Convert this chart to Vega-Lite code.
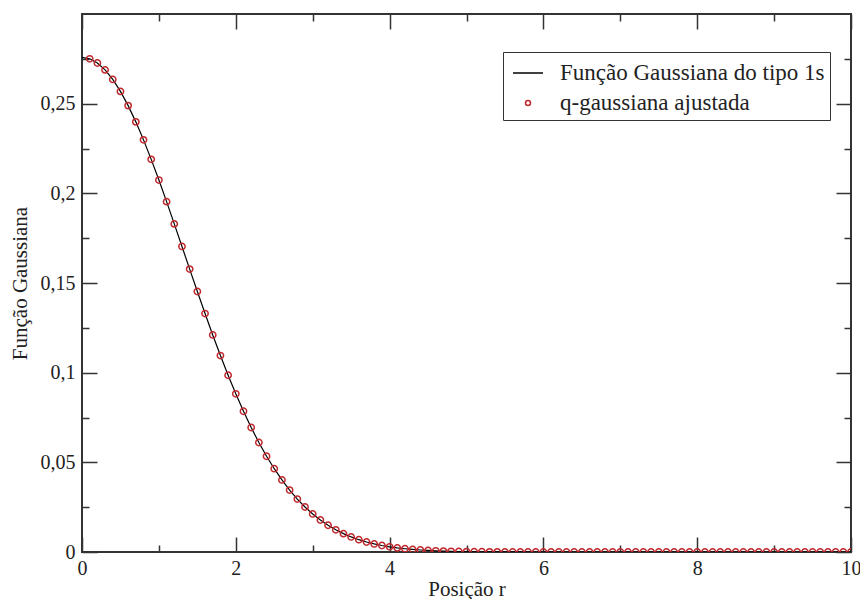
{
  "$schema": "https://vega.github.io/schema/vega-lite/v6.json",
  "width": 769,
  "height": 538,
  "autosize": {"type": "none"},
  "padding": {"left": 82, "top": 14, "right": 9, "bottom": 47},
  "background": "white",
  "config": {
    "view": {"stroke": "#333333", "strokeWidth": 2},
    "font": "Liberation Serif",
    "axis": {"domain": false, "grid": false, "labelFont": "Liberation Serif", "titleFont": "Liberation Serif", "labelColor": "#222", "titleColor": "#222", "titleFontWeight": "normal", "tickColor": "#333333", "tickWidth": 1.5, "labelFlush": false}
  },
  "data": {"values": [
    {"r": 0.0, "f": 0.27580}, {"r": 0.1, "f": 0.27502}, {"r": 0.2, "f": 0.27267}, {"r": 0.3, "f": 0.26882}, {"r": 0.4, "f": 0.26351},
    {"r": 0.5, "f": 0.25683}, {"r": 0.6, "f": 0.24891}, {"r": 0.7, "f": 0.23985}, {"r": 0.8, "f": 0.22982}, {"r": 0.9, "f": 0.21895},
    {"r": 1.0, "f": 0.20741}, {"r": 1.1, "f": 0.19536}, {"r": 1.2, "f": 0.18296}, {"r": 1.3, "f": 0.17038}, {"r": 1.4, "f": 0.15776},
    {"r": 1.5, "f": 0.14525}, {"r": 1.6, "f": 0.13296}, {"r": 1.7, "f": 0.12103}, {"r": 1.8, "f": 0.10954}, {"r": 1.9, "f": 0.09858},
    {"r": 2.0, "f": 0.08821}, {"r": 2.1, "f": 0.07848}, {"r": 2.2, "f": 0.06943}, {"r": 2.3, "f": 0.06107}, {"r": 2.4, "f": 0.05341},
    {"r": 2.5, "f": 0.04645}, {"r": 2.6, "f": 0.04017}, {"r": 2.7, "f": 0.03454}, {"r": 2.8, "f": 0.02953}, {"r": 2.9, "f": 0.02510},
    {"r": 3.0, "f": 0.02122}, {"r": 3.1, "f": 0.01783}, {"r": 3.2, "f": 0.01490}, {"r": 3.3, "f": 0.01238}, {"r": 3.4, "f": 0.01023},
    {"r": 3.5, "f": 0.00840}, {"r": 3.6, "f": 0.00686}, {"r": 3.7, "f": 0.00557}, {"r": 3.8, "f": 0.00450}, {"r": 3.9, "f": 0.00361},
    {"r": 4.0, "f": 0.00289}, {"r": 4.1, "f": 0.00229}, {"r": 4.2, "f": 0.00181}, {"r": 4.3, "f": 0.00142}, {"r": 4.4, "f": 0.00111},
    {"r": 4.5, "f": 0.00086}, {"r": 4.6, "f": 0.00066}, {"r": 4.7, "f": 0.00051}, {"r": 4.8, "f": 0.00039}, {"r": 4.9, "f": 0.00029},
    {"r": 5.0, "f": 0.00022}, {"r": 5.1, "f": 0.00017}, {"r": 5.2, "f": 0.00012}, {"r": 5.3, "f": 0.00009}, {"r": 5.4, "f": 0.00007},
    {"r": 5.5, "f": 0.00005}, {"r": 5.6, "f": 0.00004}, {"r": 5.7, "f": 0.00003}, {"r": 5.8, "f": 0.00002}, {"r": 5.9, "f": 0.00001},
    {"r": 6.0, "f": 0}, {"r": 6.1, "f": 0}, {"r": 6.2, "f": 0}, {"r": 6.3, "f": 0}, {"r": 6.4, "f": 0},
    {"r": 6.5, "f": 0}, {"r": 6.6, "f": 0}, {"r": 6.7, "f": 0}, {"r": 6.8, "f": 0}, {"r": 6.9, "f": 0},
    {"r": 7.0, "f": 0}, {"r": 7.1, "f": 0}, {"r": 7.2, "f": 0}, {"r": 7.3, "f": 0}, {"r": 7.4, "f": 0},
    {"r": 7.5, "f": 0}, {"r": 7.6, "f": 0}, {"r": 7.7, "f": 0}, {"r": 7.8, "f": 0}, {"r": 7.9, "f": 0},
    {"r": 8.0, "f": 0}, {"r": 8.1, "f": 0}, {"r": 8.2, "f": 0}, {"r": 8.3, "f": 0}, {"r": 8.4, "f": 0},
    {"r": 8.5, "f": 0}, {"r": 8.6, "f": 0}, {"r": 8.7, "f": 0}, {"r": 8.8, "f": 0}, {"r": 8.9, "f": 0},
    {"r": 9.0, "f": 0}, {"r": 9.1, "f": 0}, {"r": 9.2, "f": 0}, {"r": 9.3, "f": 0}, {"r": 9.4, "f": 0},
    {"r": 9.5, "f": 0}, {"r": 9.6, "f": 0}, {"r": 9.7, "f": 0}, {"r": 9.8, "f": 0}, {"r": 9.9, "f": 0},
    {"r": 10.0, "f": 0}
  ]},
  "resolve": {"axis": {"x": "independent", "y": "independent"}},
  "layer": [
    {
      "mark": {"type": "line", "strokeWidth": 1.2, "clip": true},
      "encoding": {
        "x": {"field": "r", "type": "quantitative", "scale": {"domain": [0, 10], "nice": false, "zero": false},
          "axis": {"orient": "bottom", "title": "Posição r", "values": [0,2,4,6,8,10], "ticks": false, "labelPadding": 6, "labelFontSize": 20, "titleFontSize": 21, "titlePadding": 0}},
        "y": {"field": "f", "type": "quantitative", "scale": {"domain": [0, 0.3], "nice": false},
          "axis": {"orient": "left", "title": "Função Gaussiana", "values": [0,0.05,0.1,0.15,0.2,0.25], "ticks": false, "labelPadding": 7, "labelFontSize": 20, "titleFontSize": 21, "titlePadding": 10,
            "labelExpr": "replace(toString(datum.value), '.', ',')"}},
        "color": {"datum": "Função Gaussiana do tipo 1s", "type": "nominal",
          "scale": {"domain": ["Função Gaussiana do tipo 1s", "q-gaussiana ajustada"], "range": ["#000000", "#c0282d"]},
          "legend": {"title": null, "orient": "none", "legendX": 421, "legendY": 38, "padding": 5, "strokeColor": "#333333", "fillColor": "white",
            "labelFontSize": 23, "labelFont": "Liberation Serif", "labelColor": "#222", "labelLimit": 0, "rowPadding": 2, "symbolOffset": 4, "labelOffset": 16, "cornerRadius": 0,
            "encode": {
              "symbols": {"update": {
              "shape": {"signal": "datum.value === 'q-gaussiana ajustada' ? 'circle' : 'stroke'"},
              "size": {"signal": "datum.value === 'q-gaussiana ajustada' ? 25 : 900"},
              "stroke": {"signal": "datum.value === 'q-gaussiana ajustada' ? '#c0282d' : '#000000'"},
              "strokeWidth": {"value": 1.5},
              "fill": {"value": "transparent"},
              "opacity": {"value": 1}
            }}}}}
      }
    },
    {
      "transform": [{"filter": "datum.r > 0"}],
      "mark": {"type": "point", "filled": false, "size": 40, "strokeWidth": 1.5, "opacity": 1, "clip": true},
      "encoding": {
        "x": {"field": "r", "type": "quantitative",
          "axis": {"orient": "bottom", "title": null, "labels": false, "values": [0,2,4,6,8,10], "tickSize": -15}},
        "y": {"field": "f", "type": "quantitative",
          "axis": {"orient": "left", "title": null, "labels": false, "values": [0,0.05,0.1,0.15,0.2,0.25], "tickSize": -15}},
        "color": {"datum": "q-gaussiana ajustada", "type": "nominal"}
      }
    },
    {
      "mark": {"type": "point", "opacity": 0},
      "encoding": {
        "x": {"field": "r", "type": "quantitative",
          "axis": {"orient": "bottom", "title": null, "labels": false, "values": [1,3,5,7,9], "tickSize": -7}},
        "y": {"field": "f", "type": "quantitative",
          "axis": {"orient": "left", "title": null, "labels": false, "values": [0.025,0.075,0.125,0.175,0.225,0.275], "tickSize": -7}}
      }
    },
    {
      "mark": {"type": "point", "opacity": 0},
      "encoding": {
        "x": {"field": "r", "type": "quantitative",
          "axis": {"orient": "top", "title": null, "labels": false, "values": [0,2,4,6,8,10], "tickSize": -15}},
        "y": {"field": "f", "type": "quantitative",
          "axis": {"orient": "right", "title": null, "labels": false, "values": [0,0.05,0.1,0.15,0.2,0.25], "tickSize": -15}}
      }
    },
    {
      "mark": {"type": "point", "opacity": 0},
      "encoding": {
        "x": {"field": "r", "type": "quantitative",
          "axis": {"orient": "top", "title": null, "labels": false, "values": [1,3,5,7,9], "tickSize": -7}},
        "y": {"field": "f", "type": "quantitative",
          "axis": {"orient": "right", "title": null, "labels": false, "values": [0.025,0.075,0.125,0.175,0.225,0.275], "tickSize": -7}}
      }
    }
  ]
}
